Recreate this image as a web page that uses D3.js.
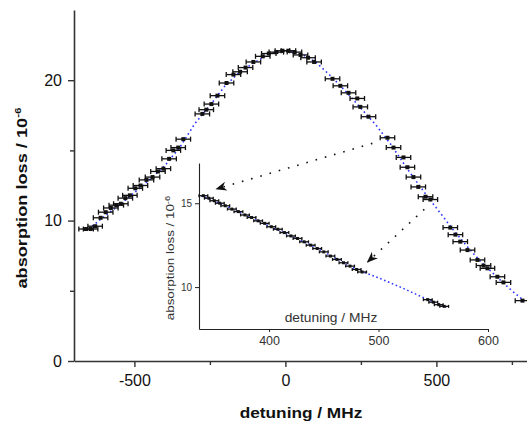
<!DOCTYPE html>
<html lang="en">
<head>
<meta charset="utf-8">
<title>absorption loss vs detuning</title>
<script src="https://cdn.jsdelivr.net/npm/d3@7"></script>
<style>
  body { margin: 0; background: #fff; }
  svg text { font-family: "Liberation Sans", Arial, sans-serif; }
</style>
</head>
<body>
<script>

// measured points, main plot (detuning in MHz, loss in 1e-6)
var mainDetuning = [-660, -645, -630, -612, -595, -578, -560, -545, -530, -515,
                    -497, -480, -460, -440, -422, -404, -385, -371, -355, -338,
                    -275, -262, -245, -225, -195, -172, -150, -132, -106, -75,
                    -55, -30, -10, 10, 30, 50, 75, 95, 156, 182,
                    209, 238, 248, 275, 338, 358, 391, 404, 424, 440,
                    464, 480, 546, 563, 579, 603, 636, 656, 669, 702,
                    722, 785];
var mainLoss = [9.4, 9.4, 9.6, 10.2, 10.6, 10.9, 11.1, 11.2, 11.6, 11.8,
                12.3, 12.5, 12.9, 13.1, 13.5, 13.7, 14.4, 15.0, 15.2, 15.8,
                17.6, 17.9, 18.3, 18.9, 19.8, 20.4, 20.6, 20.9, 21.3, 21.7,
                21.9, 22.0, 22.1, 22.1, 22.0, 21.8, 21.6, 21.3, 20.1, 19.6,
                19.1, 18.7, 18.1, 17.4, 15.9, 15.2, 14.5, 13.8, 13.1, 12.4,
                11.7, 11.5, 9.5, 9.0, 8.5, 7.9, 7.2, 6.8, 6.6, 6.0,
                5.6, 4.3];
var mainErr = 24; // MHz, half width of the bars

// fitted curve
var fitDetuning = [-640, -600, -550, -500, -450, -400, -350, -300, -250, -200,
                   -150, -100, -50, 0, 50, 100, 150, 200, 250, 300,
                   350, 400, 450, 500, 550, 600, 650, 700, 750, 790];
var fitLoss = [9.6, 10.3, 11.1, 12.0, 12.9, 13.9, 15.2, 16.9, 18.2, 19.6,
               20.6, 21.3, 21.9, 22.1, 21.9, 21.3, 20.3, 19.2, 18.0, 16.8,
               15.4, 13.8, 12.3, 10.9, 9.5, 8.2, 7.0, 6.0, 5.0, 4.3];

// inset (zoom on the falling edge)
var insetDetuning = [340, 345, 350, 355, 360, 366, 372, 378, 384, 390,
                     396, 402, 408, 414, 420, 426, 432, 438, 444, 450,
                     456, 462, 468, 474, 480, 485, 545, 550, 555, 560];
var insetLoss = [15.45, 15.3, 15.15, 15.0, 14.85, 14.65, 14.5, 14.3, 14.15, 13.95,
                 13.8, 13.6, 13.45, 13.25, 13.05, 12.9, 12.7, 12.5, 12.3, 12.1,
                 11.85, 11.65, 11.45, 11.25, 11.05, 10.9, 9.25, 9.1, 8.95, 8.85];
var insetErr = 4;
var insetFitDetuning = [338, 360, 380, 400, 420, 440, 460, 480, 500, 520, 540, 562];
var insetFitLoss = [15.45, 14.85, 14.25, 13.65, 13.05, 12.45, 11.75, 11.05, 10.55, 10.0, 9.4, 8.8];

// ticks
var xTicks = [-500, 0, 500];
var xMinor = [-250, 250, 750];
var yTicks = [0, 10, 20];
var yMinor = [5, 15];
var insetXTicks = [400, 500, 600];
var insetYTicks = [10, 15];

// arrows: start in main plot units, end in inset units
var arrowFrom = [[288, 15.5], [460, 10.8]];
var arrowTo = [[352, 15.85], [490, 11.5]];

var w = 527;
var h = 421;

var svg = d3.select("body")
    .append("svg")
    .attr("width", w)
    .attr("height", h);

svg.append("defs").append("marker")
    .attr("id", "head")
    .attr("viewBox", "0 0 10 10")
    .attr("refX", 9)
    .attr("refY", 5)
    .attr("markerWidth", 7)
    .attr("markerHeight", 7)
    .attr("orient", "auto")
    .append("path")
    .attr("d", "M0,1 L10,5 L0,9 L3,5 Z")
    .attr("fill", "#111");

// scales for main plot
var xScale = d3.scaleLinear().domain([-700, 800]).range([74, 527]);
var yScale = d3.scaleLinear().domain([0, 25]).range([361, 10]);

// scales for the inset
var ixScale = d3.scaleLinear().domain([336, 600]).range([199, 488]);
var iyScale = d3.scaleLinear().domain([7.5, 17.4]).range([329, 163]);

// main axes
var xAxis = d3.axisBottom(xScale)
    .tickValues(xTicks)
    .tickSize(6)
    .tickSizeOuter(0)
    .tickPadding(8)
    .tickFormat(function(d) { return String(d); });
var yAxis = d3.axisLeft(yScale)
    .tickValues(yTicks)
    .tickSize(6)
    .tickSizeOuter(0)
    .tickPadding(6);

var gx = svg.append("g")
    .attr("transform", "translate(0," + yScale(0) + ")")
    .call(xAxis);
svg.append("g")
    .attr("transform", "translate(0," + yScale(0) + ")")
    .call(d3.axisBottom(xScale).tickValues(xMinor).tickSize(4).tickSizeOuter(0).tickFormat(""))
    .select(".domain").remove();

var gy = svg.append("g")
    .attr("transform", "translate(" + xScale(-700) + ",0)")
    .call(yAxis);
svg.append("g")
    .attr("transform", "translate(" + xScale(-700) + ",0)")
    .call(d3.axisLeft(yScale).tickValues(yMinor).tickSize(4).tickSizeOuter(0).tickFormat(""))
    .select(".domain").remove();

svg.selectAll(".domain").attr("stroke", "#333").attr("stroke-width", 1.6);
svg.selectAll(".tick line").attr("stroke", "#333").attr("stroke-width", 1.4);
gx.selectAll("text").attr("font-size", 16).attr("fill", "#111").attr("font-family", null);
gy.selectAll("text").attr("font-size", 16).attr("fill", "#111").attr("font-family", null);

// fitted curve
var fitLine = d3.line()
    .x(function(d) { return xScale(d[0]); })
    .y(function(d) { return yScale(d[1]); });
svg.append("path")
    .datum(d3.zip(fitDetuning, fitLoss))
    .attr("d", fitLine)
    .attr("fill", "none")
    .attr("stroke", "#2a35ff")
    .attr("stroke-width", 1.6)
    .attr("stroke-dasharray", "1.6,3");

// data with horizontal error bars
function drawPoints(g, xs, ys, dx, sx, sy, cap, box) {
    var pts = g.selectAll("g.pt")
        .data(d3.zip(xs, ys))
        .enter()
        .append("g")
        .attr("class", "pt");
    pts.append("line")
        .attr("x1", function(d) { return sx(d[0] - dx); })
        .attr("x2", function(d) { return sx(d[0] + dx); })
        .attr("y1", function(d) { return sy(d[1]); })
        .attr("y2", function(d) { return sy(d[1]); });
    pts.append("line")
        .attr("x1", function(d) { return sx(d[0] - dx); })
        .attr("x2", function(d) { return sx(d[0] - dx); })
        .attr("y1", function(d) { return sy(d[1]) - cap; })
        .attr("y2", function(d) { return sy(d[1]) + cap; });
    pts.append("line")
        .attr("x1", function(d) { return sx(d[0] + dx); })
        .attr("x2", function(d) { return sx(d[0] + dx); })
        .attr("y1", function(d) { return sy(d[1]) - cap; })
        .attr("y2", function(d) { return sy(d[1]) + cap; });
    pts.selectAll("line").attr("stroke", "#111").attr("stroke-width", 1.3);
    pts.append("rect")
        .attr("x", function(d) { return sx(d[0]) - box / 2; })
        .attr("y", function(d) { return sy(d[1]) - box / 2; })
        .attr("width", box)
        .attr("height", box)
        .attr("fill", "#111");
}

drawPoints(svg.append("g"), mainDetuning, mainLoss, mainErr, xScale, yScale, 2.5, 4);

// inset axes
var inset = svg.append("g");
var ixAxis = d3.axisBottom(ixScale)
    .tickValues(insetXTicks)
    .tickSize(3)
    .tickSizeOuter(0)
    .tickPadding(4);
var iyAxis = d3.axisLeft(iyScale)
    .tickValues(insetYTicks)
    .tickSize(4)
    .tickSizeOuter(0)
    .tickPadding(3);
var igx = inset.append("g")
    .attr("transform", "translate(0," + iyScale(7.5) + ")")
    .call(ixAxis);
var igy = inset.append("g")
    .attr("transform", "translate(" + ixScale(336) + ",0)")
    .call(iyAxis);
inset.selectAll(".domain").attr("stroke", "#222").attr("stroke-width", 1.1);
inset.selectAll(".tick line").attr("stroke", "#222");
igx.selectAll("text").attr("font-size", 12.5).attr("fill", "#333").attr("font-family", null);
igy.selectAll("text").attr("font-size", 10).attr("fill", "#333").attr("font-family", null);

inset.append("path")
    .datum(d3.zip(insetFitDetuning, insetFitLoss))
    .attr("d", d3.line()
        .x(function(d) { return ixScale(d[0]); })
        .y(function(d) { return iyScale(d[1]); }))
    .attr("fill", "none")
    .attr("stroke", "#2a35ff")
    .attr("stroke-width", 1.5)
    .attr("stroke-dasharray", "1.6,2.6");

drawPoints(inset.append("g"), insetDetuning, insetLoss, insetErr, ixScale, iyScale, 1.5, 3);

// dotted arrows from main curve into inset
svg.selectAll("line.arrow")
    .data(d3.zip(arrowFrom, arrowTo))
    .enter()
    .append("line")
    .attr("class", "arrow")
    .attr("x1", function(d) { return xScale(d[0][0]); })
    .attr("y1", function(d) { return yScale(d[0][1]); })
    .attr("x2", function(d) { return ixScale(d[1][0]); })
    .attr("y2", function(d) { return iyScale(d[1][1]); })
    .attr("stroke", "#111")
    .attr("stroke-width", 1.6)
    .attr("stroke-dasharray", "1.6,8")
    .attr("marker-end", "url(#head)");

// axis titles
svg.append("text")
    .attr("transform", "translate(301,418) scale(1.15,1)")
    .attr("text-anchor", "middle")
    .attr("font-size", 15)
    .attr("font-weight", "bold")
    .attr("fill", "#111")
    .text("detuning / MHz");

var yt = svg.append("text")
    .attr("transform", "translate(27,198) rotate(-90) scale(1.3,1)")
    .attr("text-anchor", "middle")
    .attr("font-size", 14)
    .attr("font-weight", "bold")
    .attr("fill", "#111");
yt.append("tspan").text("absorption loss / 10");
yt.append("tspan").attr("font-size", 9).attr("dy", -6).text("-6");

inset.append("text")
    .attr("transform", "translate(331,322) scale(1.15,1)")
    .attr("text-anchor", "middle")
    .attr("font-size", 12)
    .attr("fill", "#333")
    .text("detuning / MHz");

var iyt = inset.append("text")
    .attr("transform", "translate(174,258) rotate(-90) scale(1.34,1)")
    .attr("text-anchor", "middle")
    .attr("font-size", 10)
    .attr("fill", "#333");
iyt.append("tspan").text("absorption loss / 10");
iyt.append("tspan").attr("font-size", 7).attr("dy", -4).text("-6");

</script>
</body>
</html>
